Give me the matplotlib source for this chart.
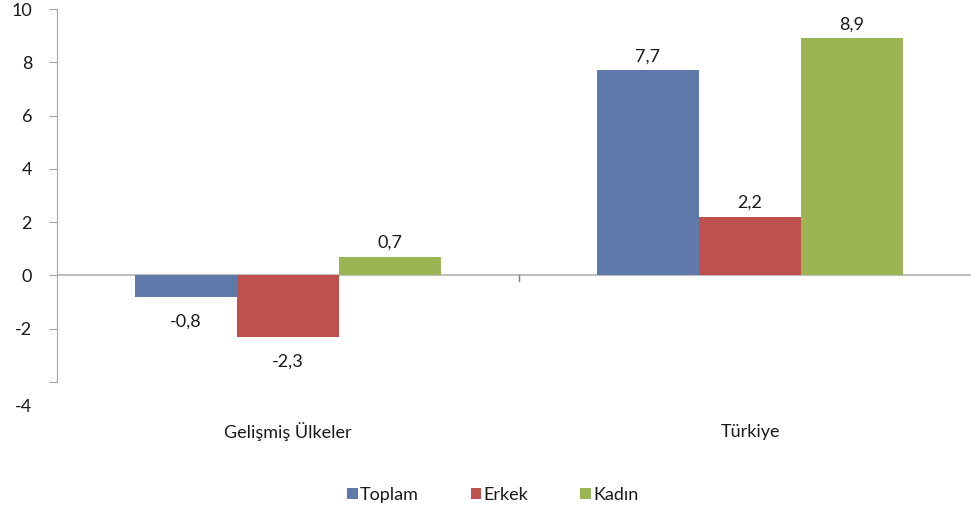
import matplotlib
matplotlib.use("Agg")
import matplotlib.pyplot as plt
import matplotlib.transforms as mtransforms
import numpy as np

# veriler
kategoriler = ["Gelişmiş Ülkeler", "Türkiye"]
seriler = ["Toplam", "Erkek", "Kadın"]
toplam = [-0.8, 7.7]
erkek = [-2.3, 2.2]
kadin = [0.7, 8.9]
renkler = ["#6079AB", "#BE504D", "#9BB554"]

plt.rcParams["font.family"] = ["Lato", "DejaVu Sans"]
plt.rcParams["font.size"] = 13

fig = plt.figure(figsize=(9.71, 5.11), dpi=100)
W, H = 971, 511
ax = fig.add_axes([57 / W, 1 - 382 / H, (981 - 57) / W, (382 - 9) / H])

x = np.arange(len(kategoriler))
genislik = 0.221
for i, (ad, degerler) in enumerate(zip(seriler, [toplam, erkek, kadin])):
    konum = x + (i - 1) * genislik
    ax.bar(konum, degerler, genislik, color=renkler[i], label=ad)
    for xb, v in zip(konum, degerler):
        ofset = 10 if v >= 0 else -18
        ax.annotate(f"{v:.1f}".replace(".", ","), (xb, v), xytext=(0, ofset),
                    textcoords="offset points", ha="center", va="center",
                    color="#1a1a1a")

ax.set_xlim(-0.5, 1.5)
ax.set_ylim(-4, 10)
ax.set_yticks(range(-4, 11, 2))
ax.set_yticklabels([str(t) for t in range(-4, 11, 2)])

# x ekseni sıfırda
for s in ["top", "right", "bottom"]:
    ax.spines[s].set_visible(False)
ax.spines["left"].set_color("#A6A6A6")
ax.axhline(0, color="#BFBFBF", lw=1.5, zorder=0)
ax.plot([0.5, 0.5], [0, -0.2], color="#808080", lw=1, clip_on=False)
ax.tick_params(axis="y", direction="out", length=6, color="#A6A6A6",
               labelcolor="#1a1a1a", pad=12)
ax.set_xticks([])

# -4 etiketi biraz aşağıda
for lbl in ax.get_yticklabels():
    if lbl.get_text() == "-4":
        lbl.set_transform(lbl.get_transform() +
                          mtransforms.ScaledTranslation(0, -23 / 100, fig.dpi_scale_trans))

# kategori etiketleri
kaydir = mtransforms.ScaledTranslation(0, -50 / 100, fig.dpi_scale_trans)
for xi, k in zip(x, kategoriler):
    ax.text(xi, -4, k, transform=ax.transData + kaydir, ha="center", va="center",
            color="#1a1a1a")

ax.legend(loc="center", bbox_to_anchor=(0.5 + 7 / W, 1 - 495 / H), bbox_transform=fig.transFigure,
          ncol=3, frameon=False, handlelength=0.6, handleheight=0.6,
          handletextpad=0.1, columnspacing=2.9, labelcolor="#1a1a1a")

fig.savefig("out.png", dpi=100)
